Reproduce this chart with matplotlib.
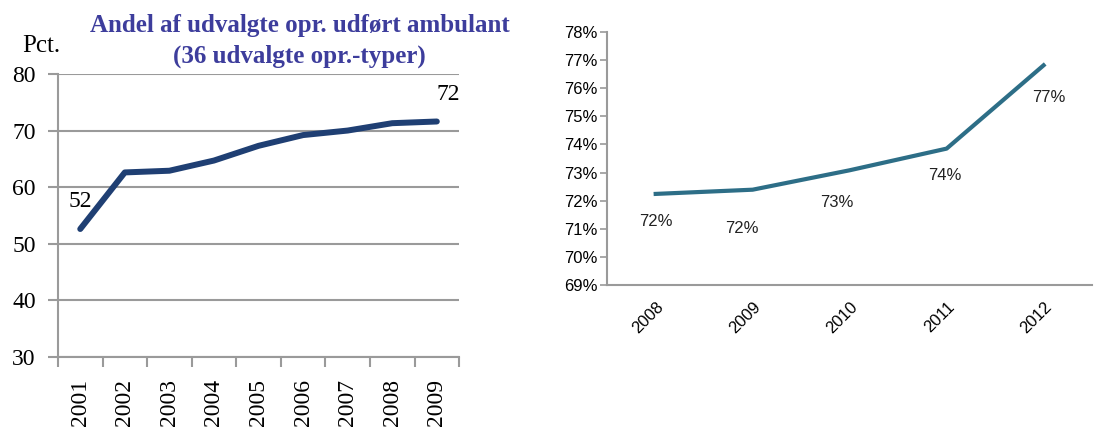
import numpy as np
import matplotlib
matplotlib.use('Agg')
import matplotlib.pyplot as plt

# left chart data
years_left = ['2001', '2002', '2003', '2004', '2005', '2006', '2007', '2008', '2009']
share_left = [52.6, 62.6, 62.9, 64.7, 67.3, 69.2, 70.0, 71.3, 71.6]

# right chart data
years_right = ['2008', '2009', '2010', '2011', '2012']
share_right = [72.24, 72.39, 73.08, 73.85, 76.81]
labels_right = ['72%', '72%', '73%', '74%', '77%']

grey = '#9a9a9a'
serif = 'Liberation Serif'
sans = 'Liberation Sans'
fig = plt.figure(figsize=(11.02, 4.30), dpi=100)

# ---- left chart
ax1 = fig.add_axes([0.0526, 0.170, 0.364, 0.658])
x1 = np.arange(len(years_left))
ax1.plot(x1, share_left, color='#1f3f73', lw=4.3, solid_capstyle='round')
ax1.set_xlim(-0.5, len(years_left) - 0.5)
ax1.set_ylim(30, 80)
ax1.set_yticks(range(30, 81, 10))
ax1.set_xticks(x1)
ax1.set_xticklabels(years_left, rotation=90, family=serif, fontsize=17)
ax1.set_xticks(np.arange(-0.5, len(years_left)), minor=True)
ax1.tick_params(axis='x', which='major', length=0, pad=16)
ax1.tick_params(axis='x', which='minor', length=7, width=1.5, color=grey)
ax1.tick_params(axis='y', length=7, width=1.5, color=grey, labelsize=17, pad=9)
for t in ax1.get_yticklabels():
    t.set_family(serif)
ax1.yaxis.grid(True, color=grey, lw=1.5)
ax1.set_axisbelow(True)
for s in ['top', 'right']:
    ax1.spines[s].set_visible(False)
for s in ['left', 'bottom']:
    ax1.spines[s].set_color(grey)
    ax1.spines[s].set_linewidth(1.5)
ax1.annotate('52', (x1[0], share_left[0]), xytext=(0, 12), textcoords='offset points',
             ha='center', va='bottom', family=serif, fontsize=17)
ax1.annotate('72', (x1[-1], share_left[-1]), xytext=(8, 12), textcoords='offset points',
             ha='center', va='bottom', family=serif, fontsize=17)
fig.text(0.02, 0.88, 'Pct.', family=serif, fontsize=18)
fig.text(0.272, 0.94, 'Andel af udvalgte opr. udført ambulant', ha='center', va='center',
         family=serif, fontsize=18, fontweight='bold', color='#3d3d9c')
fig.text(0.272, 0.868, '(36 udvalgte opr.-typer)', ha='center', va='center',
         family=serif, fontsize=18, fontweight='bold', color='#3d3d9c')

# ---- right chart
ax2 = fig.add_axes([0.551, 0.337, 0.440, 0.589])
x2 = np.arange(len(years_right))
ax2.plot(x2, share_right, color='#2d6e87', lw=3)
ax2.set_xlim(-0.5, len(years_right) - 0.5)
ax2.set_ylim(69, 78)
ax2.set_yticks(range(69, 79))
ax2.set_yticklabels(['%d%%' % v for v in range(69, 79)], family=sans, fontsize=12)
ax2.set_xticks(x2)
ax2.set_xticklabels(years_right, rotation=45, ha='right', rotation_mode='anchor',
                    family=sans, fontsize=12)
ax2.tick_params(axis='x', length=0, pad=10)
ax2.tick_params(axis='y', length=5, width=1.2, color=grey, pad=2)
for s in ['top', 'right']:
    ax2.spines[s].set_visible(False)
for s in ['left', 'bottom']:
    ax2.spines[s].set_color(grey)
    ax2.spines[s].set_linewidth(1.5)
offsets = [(0, -20), (-8, -28), (-9, -23), (-1.5, -19.5), (3.5, -23)]
for xi, yi, lab, off in zip(x2, share_right, labels_right, offsets):
    ax2.annotate(lab, (xi, yi), xytext=off, textcoords='offset points', ha='center',
                 va='center', family=sans, fontsize=12, color='#222222')

fig.savefig('out.png', dpi=100)
